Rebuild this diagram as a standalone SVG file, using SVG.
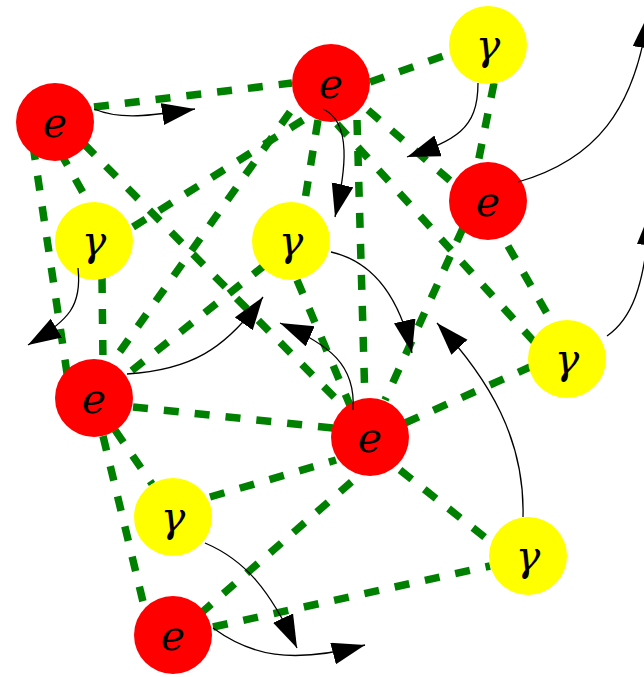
<svg xmlns="http://www.w3.org/2000/svg" width="644" height="677" viewBox="0 0 644 677">
<style>
.edge{stroke:#008000;stroke-width:7.5;stroke-dasharray:15 16;fill:none}
.arr{stroke:#000;stroke-width:1.3;fill:none;marker-end:url(#ah)}
.e{fill:#ff0000}
.g{fill:#ffff00}
.lbl{font-family:"DejaVu Serif","Liberation Serif",serif;font-style:italic;font-size:41px;text-anchor:middle;fill:#000}
</style>
<defs>
<marker id="ah" markerUnits="userSpaceOnUse" markerWidth="34" markerHeight="24" refX="33" refY="11" orient="auto">
<path d="M0,0 L33,11 L0,22 z" fill="#000"/>
</marker>
</defs>
<rect width="644" height="677" fill="#fff"/>
<g id="connectors">
<line class="edge" x1="94" y1="107" x2="292" y2="83"/>
<line class="edge" x1="60" y1="152" x2="90" y2="205"/>
<line class="edge" x1="33" y1="145" x2="68" y2="380"/>
<line class="edge" x1="84" y1="144" x2="345" y2="408"/>
<line class="edge" x1="370" y1="82" x2="452" y2="53"/>
<line class="edge" x1="368" y1="110" x2="454" y2="184"/>
<line class="edge" x1="337" y1="124" x2="537" y2="345"/>
<line class="edge" x1="357" y1="120" x2="365" y2="402"/>
<line class="edge" x1="318" y1="120" x2="304" y2="206"/>
<line class="edge" x1="303" y1="120" x2="133" y2="227"/>
<line class="edge" x1="290" y1="112" x2="114" y2="360"/>
<line class="edge" x1="494" y1="83" x2="478" y2="163"/>
<line class="edge" x1="463" y1="228" x2="385" y2="400"/>
<line class="edge" x1="508" y1="246" x2="553" y2="324"/>
<line class="edge" x1="102" y1="278" x2="103" y2="362"/>
<line class="edge" x1="265" y1="265" x2="130" y2="372"/>
<line class="edge" x1="297" y1="280" x2="352" y2="410"/>
<line class="edge" x1="133" y1="407" x2="333" y2="428"/>
<line class="edge" x1="115" y1="430" x2="152" y2="484"/>
<line class="edge" x1="103" y1="436" x2="145" y2="610"/>
<line class="edge" x1="405" y1="423" x2="530" y2="367"/>
<line class="edge" x1="210" y1="497" x2="336" y2="460"/>
<line class="edge" x1="200" y1="614" x2="357" y2="477"/>
<line class="edge" x1="400" y1="470" x2="492" y2="543"/>
<line class="edge" x1="213" y1="627" x2="490" y2="566"/>
</g>
<g id="e1"><circle class="e" cx="55" cy="122" r="39"/><text class="lbl" x="55" y="137">e</text></g>
<g id="e2"><circle class="e" cx="331" cy="83" r="39"/><text class="lbl" x="331" y="98">e</text></g>
<g id="g1"><circle class="g" cx="488" cy="45" r="39"/><text class="lbl" x="488" y="59">γ</text></g>
<g id="e3"><circle class="e" cx="488" cy="201" r="39"/><text class="lbl" x="488" y="216">e</text></g>
<g id="g2"><circle class="g" cx="94" cy="241" r="39"/><text class="lbl" x="94" y="255">γ</text></g>
<g id="g3"><circle class="g" cx="291" cy="241" r="39"/><text class="lbl" x="291" y="255">γ</text></g>
<g id="e4"><circle class="e" cx="94" cy="398" r="39"/><text class="lbl" x="94" y="413">e</text></g>
<g id="e5"><circle class="e" cx="370" cy="437" r="39"/><text class="lbl" x="370" y="452">e</text></g>
<g id="g4"><circle class="g" cx="567" cy="359" r="39"/><text class="lbl" x="567" y="373">γ</text></g>
<g id="g5"><circle class="g" cx="173" cy="517" r="39"/><text class="lbl" x="173" y="531">γ</text></g>
<g id="g6"><circle class="g" cx="528" cy="556" r="39"/><text class="lbl" x="528" y="570">γ</text></g>
<g id="e6"><circle class="e" cx="173" cy="635" r="39"/><text class="lbl" x="173" y="650">e</text></g>
<g id="arrows">
<path class="arr" d="M94,109 C120,120 150,116 195,109"/>
<path class="arr" d="M323,109 C352,122 346,170 335,217"/>
<path class="arr" d="M478,83 C478,130 455,140 407,157"/>
<path class="arr" d="M518,182 C595,160 635,110 648,15"/>
<path class="arr" d="M607,336 C630,320 645,290 650,212"/>
<path class="arr" d="M78,268 C82,305 70,320 28,345"/>
<path class="arr" d="M127,374 C190,370 225,350 263,297"/>
<path class="arr" d="M353,410 C356,365 330,345 280,323"/>
<path class="arr" d="M331,252 C375,262 400,300 412,353"/>
<path class="arr" d="M523,517 C525,440 490,380 437,323"/>
<path class="arr" d="M205,543 C245,560 270,590 297,648"/>
<path class="arr" d="M213,628 C250,655 290,665 365,645"/>
</g>
</svg>
